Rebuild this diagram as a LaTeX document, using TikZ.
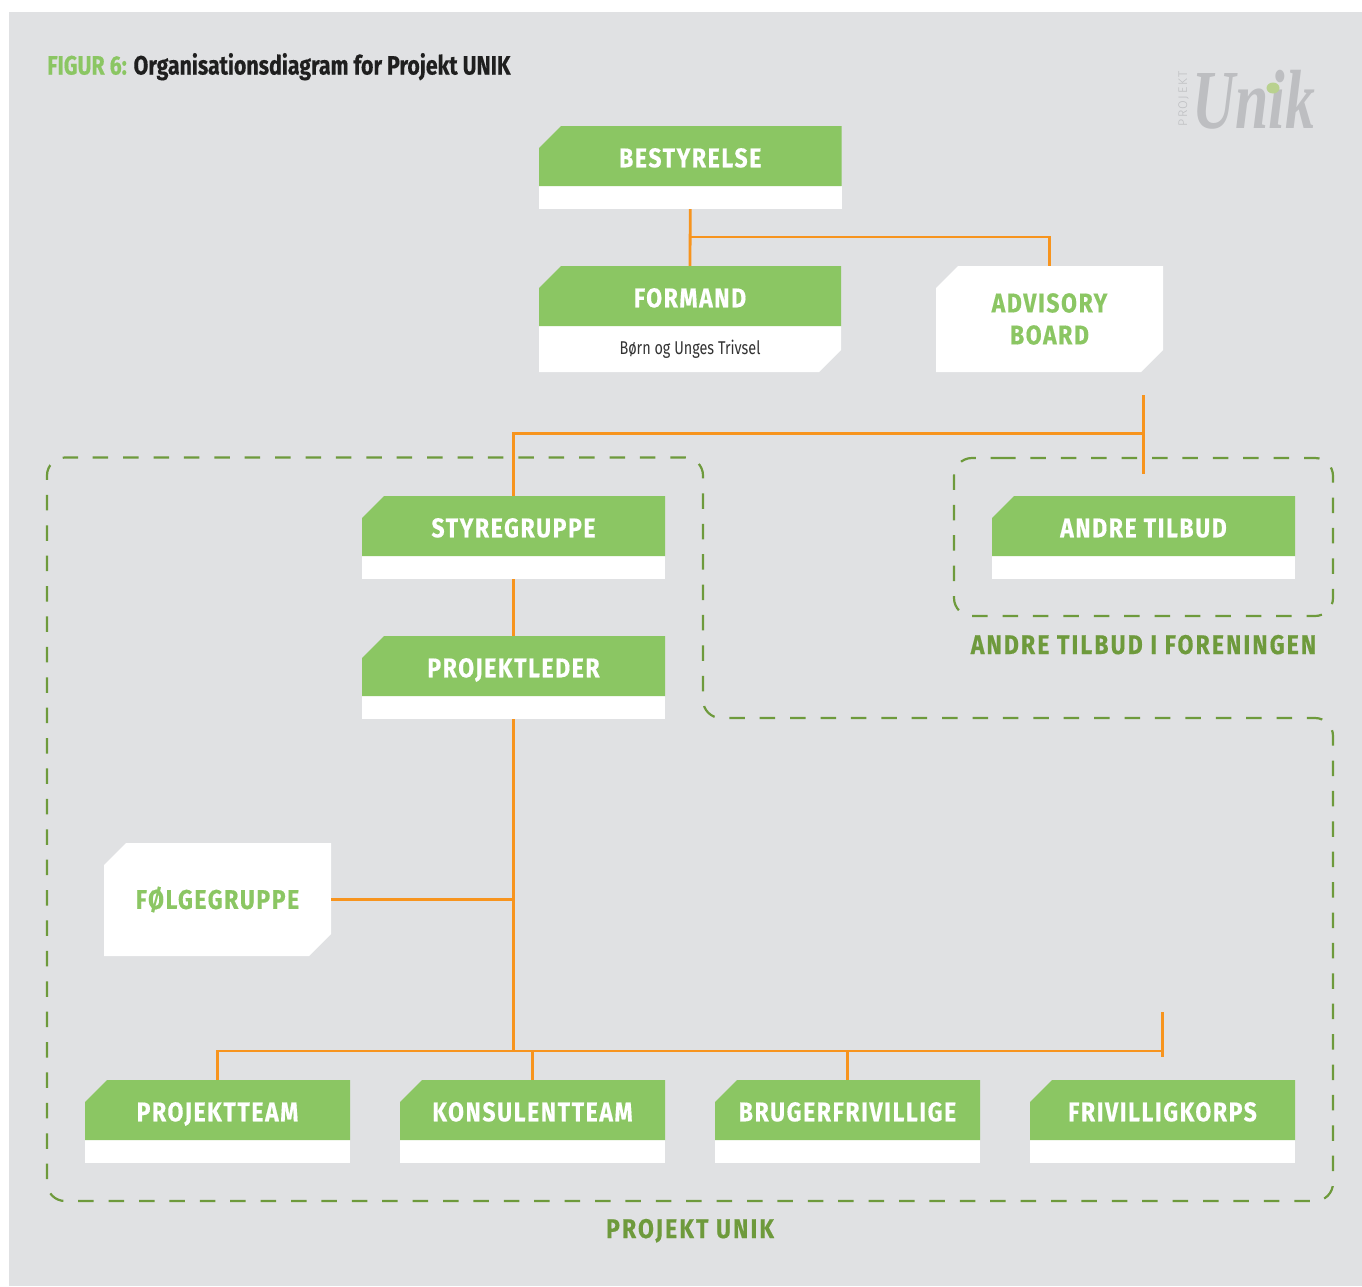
\documentclass[tikz,border=0pt]{standalone}
\usepackage{fontspec}
\setmainfont{Fira Sans}
\newfontfamily\cond[FakeStretch=0.85,LetterSpace=6,FakeBold=0.4]{Fira Sans Bold}
\newfontfamily\condwide[FakeStretch=0.85,LetterSpace=8,FakeBold=0.4]{Fira Sans Bold}
\newfontfamily\condtight[FakeStretch=0.805,FakeBold=0.4]{Fira Sans Bold}
\newfontfamily\body[FakeStretch=0.78]{Fira Sans}
\newfontfamily\logofont[FakeStretch=0.71]{Liberation Serif Bold Italic}
\newfontfamily\logosmall[LetterSpace=12]{Fira Sans Light}
\definecolor{pagegrey}{HTML}{E0E1E3}
\definecolor{boxgreen}{HTML}{8BC663}
\definecolor{darkgreen}{HTML}{6E9A3C}
\definecolor{lineorange}{HTML}{F7941E}
\definecolor{logogrey}{HTML}{BDBEC1}
\definecolor{logodot}{HTML}{B9D18F}
\tikzset{
  conn/.style={draw=lineorange,line width=2.8pt},
  region/.style={draw=darkgreen,line width=2.2pt,dash pattern=on 15.5pt off 14.9pt,rounded corners=18pt},
  boxtext/.style={text=white,font=\cond\fontsize{27}{30}\selectfont,inner sep=0pt,align=center,text height=22.5pt,text depth=0pt},
  whitetext/.style={text=boxgreen,font=\cond\fontsize{27}{32}\selectfont,inner sep=0pt,align=center},
  regionlabel/.style={text=darkgreen,font=\condwide\fontsize{27}{30}\selectfont,inner sep=0pt,text height=19pt,text depth=0pt},
}
% name, x0, y0, x1, y1 (green), y2 (white bottom), text
\newcommand{\orgbox}[7]{%
  \fill[white] (#2,#5) rectangle (#4,#6);
  \fill[boxgreen] (#2,#3+22) -- (#2+22,#3) -- (#4,#3) -- (#4,#5) -- (#2,#5) -- cycle;
  \node[boxtext,minimum width=#4pt-#2pt,minimum height=#5pt-#3pt] (#1) at ({(#2+#4)/2},{(#3+#5)/2}) {#7};
  \coordinate (#1-bottom) at ({(#2+#4)/2},#6);
}
\newcommand{\whitebox}[6]{%
  \fill[white] (#2,#3+22) -- (#2+22,#3) -- (#4,#3) -- (#4,#5-22) -- (#4-22,#5) -- (#2,#5) -- cycle;
  \node[whitetext,minimum width=#4pt-#2pt,minimum height=#5pt-#3pt] (#1) at ({(#2+#4)/2},{(#3+#5)/2}) {#6};
}
\begin{document}
\begin{tikzpicture}[x=1pt,y=-1pt]
\useasboundingbox (0,0) rectangle (1362,1286);
\fill[white] (0,0) rectangle (1362,1286);
\fill[pagegrey] (9,12) rectangle (1362,1286);

% title
\node[anchor=base west,inner sep=0pt,font=\condtight\fontsize{26.5}{30}\selectfont] (title) at (47,74.5) {\textcolor{boxgreen}{FIGUR 6:} \textcolor{black!88}{Organisationsdiagram for Projekt UNIK}};

% logo
\node[anchor=base,inner sep=0pt,text=logogrey,font=\logofont\fontsize{84}{84}\selectfont] (logo) at (1254,128) {Unik};
\fill[logodot] (1273,88) ellipse (6.5pt and 5.5pt);
\node[rotate=90,inner sep=0pt,text=logogrey,font=\logosmall\fontsize{12.5}{14}\selectfont] (logoproj) at (1183.5,99) {PROJEKT};

% dashed regions
\draw[region] (92.7,457.5) -- (703,457.5) -- (703,718) -- (1333,718) -- (1333,1201) -- (47,1201) -- (47,457.5) -- (92.7,457.5);
\draw[region] (1000,458) -- (1333,458) -- (1333,616) -- (954,616) -- (954,458) -- (1000,458);

% boxes
\orgbox{bestyrelse}{539}{126}{841.5}{186}{209}{BESTYRELSE}
\fill[white] (539,326) -- (841,326) -- (841,350) -- (819,372) -- (539,372) -- cycle;
\orgbox{formand}{539}{266}{841}{326}{326}{FORMAND}
\node[inner sep=0pt,font=\body\fontsize{18.5}{22}\selectfont,text=black!80] (formandsub) at (690,349) {Børn og Unges Trivsel};
\whitebox{advisory}{936}{266}{1163}{372}{ADVISORY\\BOARD}
\orgbox{styregruppe}{362}{496}{665}{556}{579}{STYREGRUPPE}
\orgbox{projektleder}{362}{636}{665}{696}{719}{PROJEKTLEDER}
\orgbox{andretilbud}{992}{496}{1295}{556}{579}{ANDRE TILBUD}
\whitebox{folgegruppe}{104}{843}{331}{956}{FØLGEGRUPPE}
\orgbox{projektteam}{85}{1080}{350}{1140}{1163}{PROJEKTTEAM}
\orgbox{konsulentteam}{400}{1080}{665}{1140}{1163}{KONSULENTTEAM}
\orgbox{brugerfrivillige}{715}{1080}{980}{1140}{1163}{BRUGERFRIVILLIGE}
\orgbox{frivilligkorps}{1030}{1080}{1295}{1140}{1163}{FRIVILLIGKORPS}

% region labels
\node[regionlabel] (lblandre) at (1143.5,644.5) {ANDRE TILBUD I FORENINGEN};
\node[regionlabel] (lblunik) at (690,1228.5) {PROJEKT UNIK};

% junctions
\coordinate (j1) at (bestyrelse-bottom |- 0,237);
\coordinate (advtop) at (1049.5,266);
\coordinate (advlinetop) at (1143.5,395);
\coordinate (advlinebot) at (1143.5,474);
\coordinate (j2) at (1143.5,433.5);
\coordinate (j3) at (513.5,433.5);
\coordinate (j4) at (513.5,1051);
\coordinate (j5) at (513.5,899.5);
\coordinate (j6) at (1162.5,1051);
\coordinate (j7) at (1162.5,1012);
\coordinate (j8) at (1162.5,1057);

% connectors
\draw[conn] (bestyrelse-bottom) -- (formand.north);
\draw[conn] (j1) -- (j1 -| advtop) -- (advtop);
\draw[conn] (advlinetop) -- (advlinebot);
\draw[conn] (j2) -- (j3) -- (styregruppe.north);
\draw[conn] (styregruppe-bottom) -- (projektleder.north);
\draw[conn] (projektleder-bottom) -- (j4);
\draw[conn] (folgegruppe.east) -- (j5);
\draw[conn] (projektteam.north) |- (j6);
\draw[conn] (konsulentteam.north) -- (konsulentteam.north |- j4);
\draw[conn] (brugerfrivillige.north) -- (brugerfrivillige.north |- j4);
\draw[conn] (j7) -- (j8);
\end{tikzpicture}
\end{document}
